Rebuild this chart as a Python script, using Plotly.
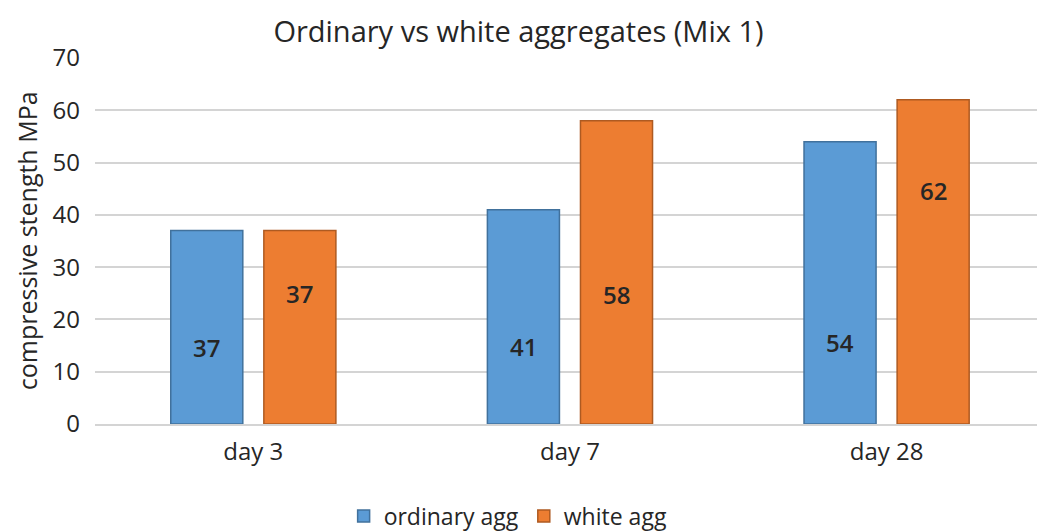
import plotly.graph_objects as go

# Compressive strength (MPa) by curing age
days = ["day 3", "day 7", "day 28"]
ordinary_agg = [37, 41, 54]
white_agg = [37, 58, 62]

# Vertical placement (MPa units) of the value labels inside each bar
ordinary_label_y = [14.7, 14.8, 15.5]
white_label_y = [25.0, 24.7, 44.7]

y_ticks = [0, 10, 20, 30, 40, 50, 60, 70]

FONT = "Open Sans"
TEXT = "#262626"
GRID = "#d4d4d4"

fig = go.Figure()
fig.add_trace(go.Bar(
    name="ordinary agg", x=days, y=ordinary_agg,
    marker=dict(color="#5b9bd5", line=dict(color="#41719c", width=1.5)),
))
fig.add_trace(go.Bar(
    name="white agg", x=days, y=white_agg,
    marker=dict(color="#ed7d31", line=dict(color="#ae5a21", width=1.5)),
))

# value labels, offset to the left/right bar of each group
bar_offset = 0.147
for i, d in enumerate(days):
    fig.add_annotation(x=i - bar_offset, y=ordinary_label_y[i], xref="x", yref="y",
                       text=str(ordinary_agg[i]), showarrow=False,
                       font=dict(family=FONT, size=24, color=TEXT, weight=600))
    fig.add_annotation(x=i + bar_offset, y=white_label_y[i], xref="x", yref="y",
                       text=str(white_agg[i]), showarrow=False,
                       font=dict(family=FONT, size=24, color=TEXT, weight=600))

# y-axis title, set as a rotated annotation left of the tick labels
fig.add_annotation(x=-0.072, y=0.5, xref="paper", yref="paper",
                   xanchor="center", yanchor="middle", textangle=-90,
                   text="compressive stength MPa", showarrow=False,
                   font=dict(family=FONT, size=25, color=TEXT))

fig.update_layout(
    width=1037, height=531,
    margin=dict(l=95, r=0, t=58, b=107),
    paper_bgcolor="white", plot_bgcolor="white",
    barmode="group", bargap=0.412, bargroupgap=0.226,
    title=dict(text="Ordinary vs white aggregates (Mix 1)", x=0.5, xanchor="center",
               y=0.94, yanchor="middle", yref="container",
               font=dict(family=FONT, size=29, color=TEXT)),
    font=dict(family=FONT, size=24, color=TEXT),
    legend=dict(orientation="h", xref="container", x=0.49, xanchor="center",
                yref="container", y=0.028, yanchor="middle",
                font=dict(family=FONT, size=23, color=TEXT), itemwidth=30,
                traceorder="normal"),
    xaxis=dict(type="category", range=[-0.5, 2.475], showgrid=False, ticks="",
               ticklabelstandoff=5,
               tickfont=dict(family=FONT, size=24, color=TEXT),
               showline=True, linecolor=GRID, linewidth=2),
    yaxis=dict(range=[0, 70], tickvals=y_ticks, showgrid=True, gridcolor=GRID, gridwidth=2,
               zeroline=False, ticks="", ticklabelstandoff=14,
               tickfont=dict(family=FONT, size=24, color=TEXT)),
)

fig.write_html("out.html")
